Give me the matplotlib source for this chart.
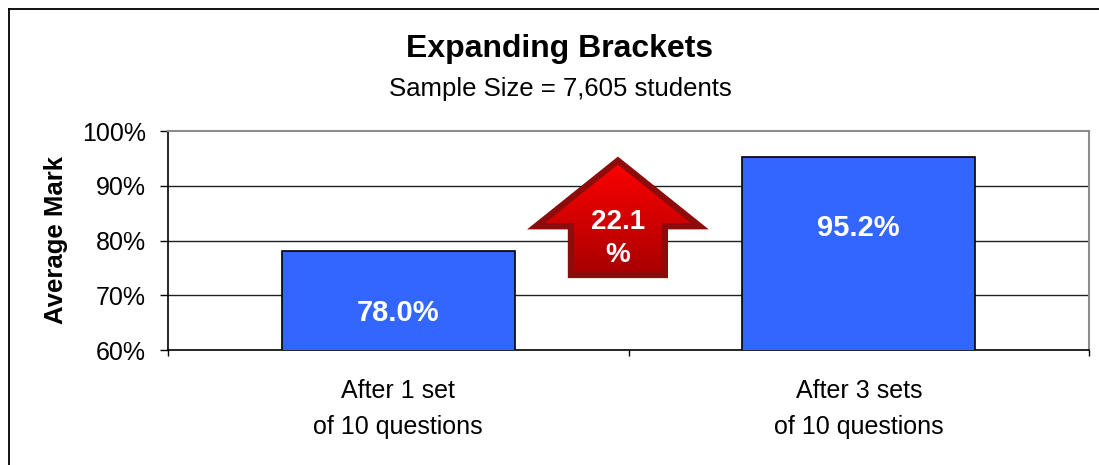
# Expanding Brackets - average mark before/after practice
import numpy as np
import matplotlib.pyplot as plt
from matplotlib.patches import Polygon
from matplotlib.lines import Line2D
from matplotlib.colors import LinearSegmentedColormap

plt.rcParams['font.family'] = ['Liberation Sans', 'DejaVu Sans']

# данные
categories = ['After 1 set\nof 10 questions', 'After 3 sets\nof 10 questions']
marks = [78.0, 95.2]
y_ticks = [60, 70, 80, 90, 100]
title = 'Expanding Brackets'
subtitle = 'Sample Size = 7,605 students'


def main():
    fig = plt.figure(figsize=(10.99, 4.65), dpi=100)
    ax = fig.add_axes([168 / 1099, 1 - 350 / 465, 921 / 1099, 219 / 465])

    x = np.arange(len(categories))
    ax.bar(x, marks, width=0.505, bottom=0, color='#3366FF',
           edgecolor='black', linewidth=1.2, zorder=3)

    # подписи внутри столбцов
    label_drop = [11.2, 13.0]
    for xi, v, d in zip(x, marks, label_drop):
        ax.text(xi, v - d, f'{v:.1f}%', ha='center', va='center',
                color='white', fontsize=21, fontweight='bold', zorder=5)

    ax.set_xlim(-0.5, 1.5)
    ax.set_ylim(60, 100)
    ax.set_yticks(y_ticks)
    ax.set_yticklabels([f'{t}%' for t in y_ticks])
    ax.set_xticks(x)
    ax.set_xticklabels(categories)
    ax.set_xticks([-0.5, 0.5, 1.5], minor=True)
    ax.tick_params(axis='x', which='major', length=0, pad=21, labelsize=18)
    ax.tick_params(axis='x', which='minor', length=4, width=1, direction='out')
    ax.tick_params(axis='y', length=6, width=1, direction='out', pad=10,
                   labelsize=18)
    for lab in ax.get_xticklabels():
        lab.set_linespacing(1.6)

    for t in y_ticks[1:-1]:
        ax.axhline(t, color='#202020', linewidth=1, zorder=1)
    for s in ['top', 'right']:
        ax.spines[s].set_color('#8c8c8c')
        ax.spines[s].set_linewidth(1.5)
    for s in ['left', 'bottom']:
        ax.spines[s].set_color('black')
        ax.spines[s].set_linewidth(1.2)

    ax.set_ylabel('Average Mark', fontsize=18.5, fontweight='bold')
    ax.yaxis.set_label_coords(-0.109, 0.5)

    # красная стрелка с приростом
    growth = (marks[1] - marks[0]) / marks[0] * 100
    cx, hw, hs = 0.477, 0.178, 0.102
    tip, wing, base = 94.6, 82.6, 73.7
    pts = [(cx, tip), (cx + hw, wing), (cx + hs, wing), (cx + hs, base),
           (cx - hs, base), (cx - hs, wing), (cx - hw, wing)]
    arrow = Polygon(pts, closed=True, facecolor='none', edgecolor='#8e0b0b',
                    linewidth=4.5, joinstyle='miter', zorder=6)
    ax.add_patch(arrow)
    grad = np.linspace(0, 1, 256).reshape(-1, 1)
    cmap = LinearSegmentedColormap.from_list('redgrad', ['#ff0000', '#a80000'])
    img = ax.imshow(grad, cmap=cmap, aspect='auto',
                    extent=(cx - hw, cx + hw, base, tip), zorder=5,
                    interpolation='bilinear')
    clip = Polygon(pts, closed=True, transform=ax.transData)
    img.set_clip_path(clip)
    ax.text(cx, 80.4, f'{growth:.1f}\n%', ha='center', va='center',
            color='white', fontsize=20, fontweight='bold', linespacing=1.35,
            zorder=7)
    ax.set_xlim(-0.5, 1.5)
    ax.set_ylim(60, 100)

    # заголовки
    fig.text(560 / 1099, 1 - 57 / 465, title, ha='center', va='baseline',
             fontsize=23, fontweight='bold')
    fig.text(560 / 1099, 1 - 96 / 465, subtitle, ha='center', va='baseline',
             fontsize=18.5)

    # рамка диаграммы
    fig.add_artist(Line2D([9 / 1099, 9 / 1099], [0, 1 - 9 / 465],
                          transform=fig.transFigure, color='black', lw=1.3))
    fig.add_artist(Line2D([9 / 1099, 1], [1 - 9 / 465, 1 - 9 / 465],
                          transform=fig.transFigure, color='black', lw=1.3))

    fig.savefig('out.png', dpi=100, facecolor='white')


if __name__ == '__main__':
    main()
